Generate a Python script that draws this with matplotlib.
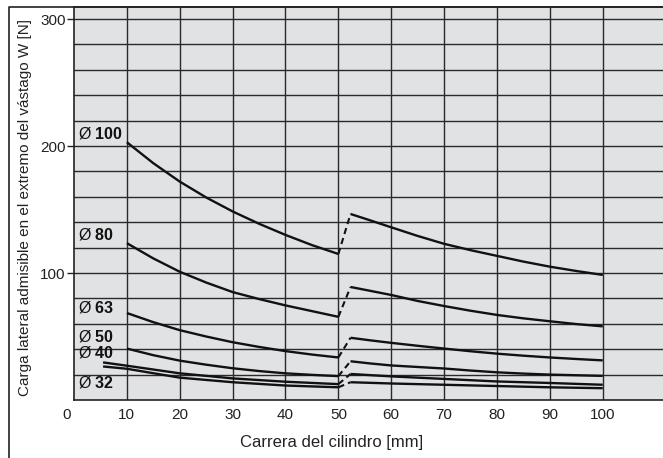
import matplotlib
matplotlib.use("Agg")
import matplotlib.pyplot as plt
from matplotlib.lines import Line2D
from matplotlib.transforms import ScaledTranslation

plt.rcParams['font.family'] = ['Liberation Sans', 'DejaVu Sans']
plt.rcParams['mathtext.fontset'] = 'custom'
plt.rcParams['mathtext.rm'] = 'Liberation Sans'
plt.rcParams['mathtext.bf'] = 'Liberation Sans:bold'

# ---- data ----
x_left = [10, 15, 20, 25, 30, 35, 40, 45, 50]
x_left_coarse = [10, 20, 30, 40, 50]
x_left_small = [5.5, 10, 20, 30, 40, 50]
x_right = [52.3, 56, 60, 65, 70, 75, 80, 85, 90, 95, 100]
x_right_coarse = [52.3, 60, 70, 80, 90, 100]

d100_left = [203, 186.5, 172, 159.5, 148.5, 138.8, 130, 122, 115]
d100_right = [146.5, 141.5, 136, 129.2, 123, 118, 113.5, 109, 105, 101.6, 98.5]
d80_left = [123.5, 111.5, 101, 92.5, 85, 79.5, 74.5, 70, 65.5]
d80_right = [89, 86, 82.7, 78, 74, 70.3, 67, 64.3, 62, 59.8, 58]
d63_left = [68.5, 61.3, 55, 50, 45.5, 41.8, 38.5, 35.8, 33.5]
d63_right = [49, 47, 45, 42.7, 40.5, 38.4, 36.5, 34.9, 33.5, 32.3, 31.2]
d50_left = [40.5, 35.3, 31, 27.8, 25, 22.8, 21, 19.8, 18.8]
d50_right = [30.5, 28.8, 27.2, 26, 24.8, 23.2, 21.8, 20.8, 20, 19.5, 19]
d40_left = [29.6, 27, 21, 17, 14.4, 12.5]
d40_right = [20.5, 18.6, 16.6, 14.6, 13.4, 12]
d32_left = [26.4, 24.6, 17.6, 14, 11.4, 10]
d32_right = [14, 13, 12, 11, 10, 9.3]

labels = ["100", "80", "63", "50", "40", "32"]
label_y = [209.5, 130, 73, 50, 37.8, 14]

x_ticks = [0, 10, 20, 30, 40, 50, 60, 70, 80, 90, 100]
y_ticks = [100, 200, 300]

series = [
    (x_left, d100_left, x_right, d100_right),
    (x_left, d80_left, x_right, d80_right),
    (x_left, d63_left, x_right, d63_right),
    (x_left, d50_left, x_right, d50_right),
    (x_left_small, d40_left, x_right_coarse, d40_right),
    (x_left_small, d32_left, x_right_coarse, d32_right),
]

W, H = 663, 458
fig = plt.figure(figsize=(W / 100, H / 100), dpi=100)
fig.patch.set_facecolor('white')
ax = fig.add_axes([74 / W, (H - 400) / H, (W - 74) / W, 393 / H])
ax.set_facecolor('#e1e2e4')
ax.set_xlim(0, 111.4)
ax.set_ylim(0, 309.5)

grid_c = '#2a2a2a'
for gx in range(10, 101, 10):
    ax.axvline(gx, color=grid_c, lw=1.0, zorder=1)
for gy in range(20, 301, 20):
    ax.axhline(gy, color=grid_c, lw=1.0, zorder=1)

for xl, yl, xr, yr in series:
    ax.plot(xl, yl, color='#111111', lw=1.7, zorder=3, solid_capstyle='butt',
            solid_joinstyle='round')
    ax.plot(xr, yr, color='#111111', lw=1.7, zorder=3, solid_capstyle='butt',
            solid_joinstyle='round')
    ax.plot([xl[-1], xr[0]], [yl[-1], yr[0]], color='#111111', lw=1.5,
            ls=(0, (3, 2)), zorder=3)

for lab, ly in zip(labels, label_y):
    ax.text(0.8, ly, "Ø $\\mathbf{" + lab + "}$", fontsize=11.5, ha='left',
            va='center', color='#111111', zorder=4)

ax.set_xticks(x_ticks)
ax.set_yticks(y_ticks)
ax.tick_params(axis='x', length=0, pad=6, labelsize=11, colors='#222222')
ax.tick_params(axis='y', length=5, pad=1, labelsize=11, colors='#222222', width=1)
for s in ['top', 'bottom', 'left']:
    ax.spines[s].set_color('#222222')
    ax.spines[s].set_linewidth(1.2)
ax.spines['right'].set_visible(False)

lbl0 = ax.get_xticklabels()[0]
lbl0.set_transform(lbl0.get_transform() + ScaledTranslation(-0.07, 0, fig.dpi_scale_trans))

fig.text(332 / W, 1 - 443 / H, "Carrera del cilindro [mm]", fontsize=12,
         ha='center', va='center', color='#222222')
fig.text(25 / W, 1 - 208 / H,
         "Carga lateral admisible en el extremo del vástago W [N]",
         fontsize=11, rotation=90, ha='center', va='center', color='#222222')

fig.add_artist(Line2D([9 / W, 9 / W, 1], [0, 1 - 7 / H, 1 - 7 / H],
                      transform=fig.transFigure, color='#222222', lw=1.2))

fig.savefig("out.png", dpi=100, facecolor='white')
